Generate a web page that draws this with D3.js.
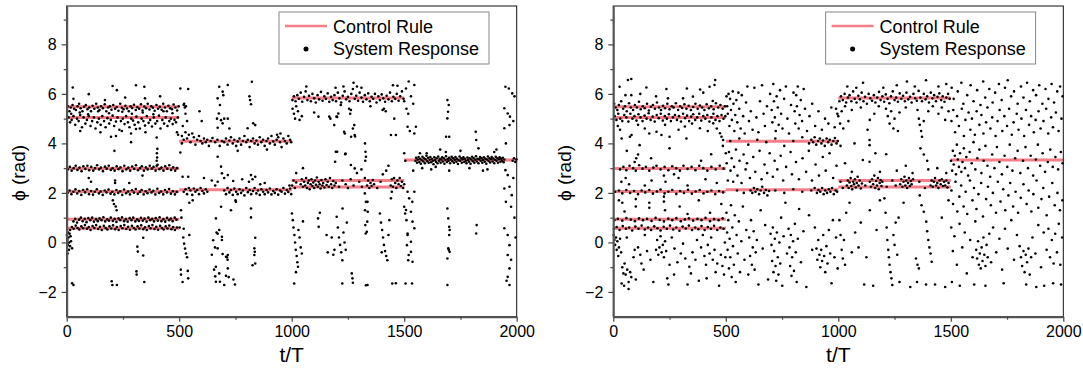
<!DOCTYPE html>
<html>
<head>
<meta charset="utf-8">
<script src="https://cdn.jsdelivr.net/npm/d3@7"></script>
<style>
body { margin: 0; background: #fff; }
svg { display: block; font-family: Arial, "Liberation Sans", sans-serif; }
</style>
</head>
<body>
<svg width="1083" height="369"></svg>
<script>
// control rule: one level per segment [from, to]
var ruleFrom  = [0, 0, 0, 0, 0, 0, 500, 500, 1000, 1000, 1000, 1500];
var ruleTo    = [500, 500, 500, 500, 500, 500, 1000, 1000, 1500, 1500, 1500, 2000];
var ruleLevel = [5.48, 5.05, 2.99, 2.06, 0.94, 0.57, 4.09, 2.13, 5.83, 2.5, 2.24, 3.33];

var xTicks = [0, 500, 1000, 1500, 2000];
var xMinor = [250, 750, 1250, 1750];
var yTicks = [-2, 0, 2, 4, 6, 8];
var yMinor = [-1, 1, 3, 5, 7, 9];

// system response, left panel  [t/T, phi]
var leftResponse = [
[5,5.5],[12,5.3],[18,5.45],[26,5.55],[33,5.4],[41,5.35],[48,5.5],[55,5.6],[62,5.42],[70,5.3],[77,5.48],[85,5.55],[92,5.38],[100,5.45],[108,5.3],[115,5.52],[123,5.4],[131,5.6],[138,5.45],[146,5.35],[153,5.5],[161,5.42],[169,5.58],[176,5.3],[184,5.45],[192,5.5],[199,5.36],[207,5.55],[215,5.4],[222,5.47],[230,5.32],[238,5.6],[245,5.44],[253,5.38],[261,5.52],[268,5.41],[276,5.3],[284,5.5],[291,5.43],[299,5.56],[307,5.35],[314,5.46],[322,5.4],[330,5.58],[337,5.33],[345,5.49],[353,5.42],[360,5.6],[368,5.37],[376,5.5],[383,5.44],[391,5.32],[399,5.55],[406,5.4],[414,5.48],[422,5.36],[429,5.6],[437,5.45],[445,5.3],[452,5.52],[460,5.42],[468,5.38],[475,5.57],[483,5.45],[491,5.33],[498,5.5],
[8,5.05],[15,4.85],[22,4.95],[30,5.1],[38,4.75],[46,5.0],[53,4.9],[60,5.15],[68,4.65],[75,5.05],[83,4.8],[90,4.95],[98,5.1],[106,4.7],[113,4.9],[121,5.05],[128,4.6],[136,4.85],[143,5.0],[151,4.75],[158,5.1],[166,4.9],[173,4.65],[181,5.02],[189,4.8],[196,4.95],[204,5.12],[211,4.7],[219,4.88],[226,5.05],[234,4.55],[241,4.9],[249,5.0],[257,4.78],[264,5.1],[272,4.85],[279,4.65],[287,5.0],[295,4.92],[302,4.75],[310,5.08],[318,4.85],[325,4.6],[333,5.0],[341,4.9],[348,4.72],[356,5.1],[364,4.83],[371,4.95],[379,4.68],[387,5.05],[394,4.8],[402,4.9],[410,5.12],[417,4.6],[425,4.95],[433,4.8],[440,5.05],[448,4.7],[456,4.9],[463,5.0],[471,4.78],[479,4.95],[486,4.85],[494,5.05],
[20,5.2],[58,5.25],[95,5.18],[140,5.3],[188,5.22],[247,5.28],[290,5.2],[338,5.25],[385,5.18],[430,5.3],[470,5.22],
[27,6.26],[98,5.99],[204,6.32],[223,6.15],[308,6.35],[345,6.29],[348,5.82],[30,5.8],[260,5.85],[415,5.9],[170,5.75],
[197,4.27],[219,4.3],[286,4.4],[286,4.05],[308,4.58],[400,4.24],[212,3.7],[401,3.6],[402,3.43],[403,3.78],[400,3.3],[495,4.35],[490,4.45],[150,4.45],[60,4.5],[350,4.45],[245,4.5],
[5,2.95],[14,3.05],[22,2.9],[31,3.0],[40,3.1],[48,2.93],[57,3.02],[66,2.88],[74,3.08],[83,2.97],[92,3.1],[100,2.92],[109,3.05],[118,2.9],[126,3.0],[135,3.12],[144,2.95],[152,3.02],[161,2.88],[170,3.06],[178,2.98],[187,3.1],[196,2.93],[204,3.0],[213,2.9],[222,3.08],[230,2.96],[239,3.03],[248,2.88],[256,3.1],[265,2.95],[274,3.02],[282,2.9],[291,3.07],[300,2.97],[308,3.12],[317,2.92],[326,3.0],[334,3.08],[343,2.9],[352,3.03],[360,2.95],[369,3.1],[378,2.98],[386,3.05],[395,2.9],[404,3.14],[412,2.96],[421,3.02],[430,2.9],[438,3.08],[447,2.98],[456,3.12],[464,2.93],[473,3.03],[482,2.9],[490,3.0],
[4,2.0],[13,2.1],[21,1.95],[30,2.05],[39,2.15],[47,1.98],[56,2.08],[65,1.92],[73,2.12],[82,2.02],[91,2.15],[99,1.95],[108,2.08],[117,1.93],[125,2.05],[134,2.15],[143,1.98],[151,2.06],[160,1.92],[169,2.1],[177,2.02],[186,2.14],[195,1.97],[203,2.05],[212,1.94],[221,2.12],[229,2.0],[238,2.07],[247,1.92],[255,2.14],[264,1.99],[273,2.06],[281,1.94],[290,2.11],[299,2.01],[307,2.16],[316,1.96],[325,2.04],[333,2.12],[342,1.94],[351,2.07],[359,1.99],[368,2.14],[377,2.02],[385,2.09],[394,1.94],[403,2.17],[411,2.0],[420,2.06],[429,1.94],[437,2.12],[446,2.02],[455,2.16],[463,1.97],[472,2.07],[481,1.94],[489,2.04],
[30,0.85],[38,0.95],[46,0.8],[55,0.92],[63,1.0],[71,0.86],[80,0.95],[88,0.82],[96,0.98],[105,0.9],[113,1.0],[121,0.84],[130,0.94],[138,0.86],[146,0.97],[155,0.9],[163,1.02],[171,0.85],[180,0.93],[188,0.88],[196,1.0],[205,0.87],[213,0.95],[221,0.83],[230,0.97],[238,0.9],[246,1.01],[255,0.86],[263,0.94],[271,0.84],[280,0.98],[288,0.9],[296,1.0],[305,0.85],[313,0.93],[321,0.87],[330,0.99],[338,0.88],[346,0.96],[355,0.84],[363,1.0],[371,0.9],[380,0.95],[388,0.85],[396,0.98],[405,0.88],[413,1.02],[421,0.86],[430,0.94],[438,0.84],[446,0.99],[455,0.9],[463,0.96],[471,0.86],[480,1.0],[488,0.92],
[15,0.5],[23,0.62],[31,0.55],[40,0.68],[48,0.58],[56,0.52],[65,0.65],[73,0.57],[81,0.7],[90,0.55],[98,0.62],[106,0.5],[115,0.66],[123,0.58],[131,0.7],[140,0.54],[148,0.63],[156,0.5],[165,0.67],[173,0.58],[181,0.52],[190,0.65],[198,0.56],[206,0.69],[215,0.53],[223,0.62],[231,0.5],[240,0.66],[248,0.57],[256,0.7],[265,0.54],[273,0.63],[281,0.51],[290,0.67],[298,0.58],[306,0.52],[315,0.65],[323,0.56],[331,0.69],[340,0.53],[348,0.61],[356,0.5],[365,0.66],[373,0.57],[381,0.7],[390,0.54],[398,0.63],[406,0.51],[415,0.67],[423,0.58],[431,0.52],[440,0.65],[448,0.56],[456,0.68],[465,0.53],[473,0.62],[481,0.5],[490,0.6],
[1,0.3],[3,0.1],[5,-0.1],[6,0.4],[8,0.2],[10,-0.3],[11,0.0],[13,0.35],[15,-0.15],[17,0.25],[4,-0.45],[19,0.05],
[98,2.6],[108,2.45],[215,2.5],[215,2.4],[278,2.4],[337,2.7],[205,1.7],[210,1.55],[218,1.45],[222,1.3],[24,-0.24],[340,0.19],[314,-0.17],[316,-0.37],[340,-0.53],[310,-1.17],[311,-1.3],[345,-1.6],[24,-1.65],[30,-1.72],[200,-1.57],[203,-1.72],[223,-1.72],[400,3.1],
[508,1.3],[510,1.0],[520,0.55],[518,0.2],[522,-0.05],[526,-0.25],[530,-0.45],[535,-0.6],[507,-1.1],[508,-1.3],[538,-1.15],[540,-1.45],[515,-1.6],[505,3.63],[505,6.22],[540,6.2],[520,5.55],[525,5.45],[530,5.5],[522,5.6],[535,4.9],[515,2.65],[540,2.65],[512,4.0],[516,4.7],[528,5.2],[545,1.6],[502,0.6],[545,0.3],
[512,4.3],[520,4.15],[528,4.45],[535,4.2],[543,4.35],[550,4.05],[558,4.4],[565,4.25],[572,3.95],[580,4.15],[588,4.3],[595,4.1],[603,4.0],[610,4.2],[618,4.05],[625,4.15],[632,3.9],[640,4.1],[648,4.22],[700,4.05],[708,4.2],[715,3.95],[723,4.12],[730,4.25],[738,4.0],[745,4.15],[753,3.9],[760,4.08],[768,4.2],[775,3.95],[783,4.1],[790,4.3],[798,4.05],[805,4.15],[813,3.85],[820,4.1],[828,4.2],[835,4.0],[843,4.12],[850,3.95],[858,4.25],[865,4.05],[873,4.15],[880,3.9],[888,4.1],[895,4.2],[903,4.0],[910,4.3],[918,4.08],[925,3.95],[933,4.15],[940,4.25],[948,4.05],[955,3.85],[963,4.2],[970,4.1],[978,4.0],[985,4.3],[993,4.15],[998,4.05],[660,4.05],[670,4.15],[680,3.9],[690,4.1],[935,4.35],[950,4.4],[890,3.75],[760,3.7],
[520,2.05],[528,2.15],[535,1.95],[543,2.2],[550,2.1],[558,1.92],[565,2.18],[572,2.05],[580,2.12],[588,1.95],[595,2.2],[603,2.08],[610,1.98],[618,2.15],[625,2.05],[700,2.1],[708,1.95],[715,2.2],[723,2.02],[730,2.12],[738,1.92],[745,2.18],[753,2.05],[760,1.95],[768,2.15],[775,2.0],[783,2.1],[790,1.9],[798,2.2],[805,2.03],[813,2.12],[820,1.95],[828,2.08],[835,2.2],[843,1.98],[850,2.1],[858,1.92],[865,2.15],[873,2.05],[880,1.95],[888,2.12],[895,2.02],[903,2.18],[910,1.94],[918,2.08],[925,2.0],[933,2.15],[940,1.93],[948,2.1],[955,2.05],[963,2.2],[970,1.97],[978,2.12],[985,2.04],[993,2.18],[998,1.95],[860,2.35],[880,2.4],[750,1.7],[660,2.3],[645,2.5],[700,2.6],[780,2.55],[810,2.45],[990,2.3],
[678,6.29],[693,6.09],[696,5.95],[716,6.36],[671,5.82],[681,5.55],[676,5.21],[686,4.94],[700,5.0],[716,5.0],[668,5.0],[693,4.81],[723,4.6],[671,4.63],[823,6.49],[812,5.9],[815,5.75],[819,5.58],[829,4.81],[838,4.74],[804,4.61],[671,3.46],[686,3.06],[690,2.79],[716,2.72],[671,2.45],[740,2.48],[819,2.72],[826,2.55],[838,2.65],[752,1.64],[686,1.44],[819,1.37],[819,1.01],[663,0.97],[678,0.5],[690,0.23],[671,0.35],[838,0.19],[690,0.1],[693,-0.47],[716,-0.51],[708,-0.58],[671,-0.24],[716,-1.05],[678,-1.25],[708,-1.35],[720,-1.4],[700,-1.72],[834,-0.24],[836,-0.38],[834,-0.51],[838,-0.85],[826,-0.92],[663,-0.98],[663,-1.59],[681,-1.59],[651,0.09],[659,-0.2],[666,0.4],[645,-0.5],[655,-1.1],[660,-1.37],[741,-1.5],[748,-1.7],[712,-0.6],[715,-0.7],[730,1.3],[610,2.6],[590,5.3],[600,4.9],[560,1.7],
[1003,5.75],[1010,5.9],[1017,5.7],[1025,5.95],[1032,5.8],[1040,6.05],[1047,5.68],[1055,5.88],[1062,6.1],[1070,5.75],[1077,5.92],[1085,5.7],[1092,6.0],[1100,5.82],[1107,5.65],[1115,5.95],[1122,5.78],[1130,6.08],[1137,5.72],[1145,5.9],[1152,5.8],[1160,6.02],[1167,5.68],[1175,5.88],[1182,5.75],[1190,5.95],[1197,5.7],[1205,6.05],[1212,5.82],[1220,5.65],[1227,5.92],[1235,6.1],[1242,5.78],[1250,5.88],[1257,5.7],[1265,6.0],[1272,6.2],[1280,5.8],[1287,5.92],[1295,5.72],[1302,6.05],[1310,5.85],[1317,5.68],[1325,5.95],[1332,5.78],[1340,6.02],[1347,5.7],[1355,5.88],[1362,5.8],[1370,6.0],[1377,5.65],[1385,5.9],[1392,5.75],[1400,5.98],[1407,5.82],[1415,5.68],[1422,5.92],[1430,5.78],[1437,6.05],[1445,5.7],[1452,5.88],[1460,5.8],[1467,6.0],[1475,5.72],[1482,5.9],[1490,6.1],[1497,5.8],
[1275,6.45],[1290,6.3],[1310,6.25],[1195,6.25],[1450,6.35],[1470,6.33],[1508,6.22],[1520,6.5],[1545,6.36],[1065,6.3],[1230,6.3],
[1004,5.4],[1010,5.2],[1015,5.0],[1020,5.5],[1028,5.3],[1035,4.95],[1045,5.1],[1119,5.08],[1167,5.08],[1172,5.0],[1189,4.74],[1199,5.08],[1218,5.55],[1233,4.47],[1236,4.4],[1255,5.4],[1260,5.2],[1263,5.35],[1278,4.74],[1280,4.34],[1282,4.28],[1404,5.35],[1410,5.4],[1418,5.3],[1456,5.0],[1441,4.34],[1463,4.34],[1515,4.67],[1525,4.5],[1545,4.4],[1552,4.67],[1510,5.4],[1518,5.2],[1350,5.5],[1100,5.25],[1530,5.9],[1540,5.6],[1500,5.7],
[1196,3.66],[1238,3.56],[1263,3.13],[1193,3.26],[1326,4.0],[1328,3.66],[1330,3.46],[1327,3.3],[1239,3.59],[1202,3.66],[1264,4.27],[1272,4.6],[1202,5.07],[1207,5.21],[1280,2.99],[1020,2.8],[1050,3.0],[1430,3.1],[1500,3.6],[1505,3.3],[1540,2.9],
[1002,2.3],[1008,2.5],[1014,2.2],[1020,2.42],[1040,2.35],[1045,2.55],[1050,2.25],[1055,2.45],[1060,2.3],[1064,2.6],[1068,2.2],[1072,2.4],[1076,2.5],[1080,2.15],[1084,2.35],[1088,2.55],[1092,2.28],[1096,2.42],[1100,2.2],[1104,2.5],[1108,2.33],[1112,2.62],[1116,2.25],[1120,2.45],[1124,2.35],[1128,2.18],[1132,2.52],[1136,2.3],[1140,2.4],[1145,2.22],[1150,2.55],[1155,2.32],[1160,2.45],[1165,2.25],[1170,2.6],[1175,2.35],[1180,2.2],[1185,2.48],[1190,2.3],[1196,2.4],[1210,2.25],[1225,2.5],[1240,2.35],[1250,2.2],[1262,2.55],[1275,2.3],[1290,2.8],[1300,2.45],[1312,2.25],[1325,2.6],[1335,2.3],[1340,2.5],[1345,2.2],[1350,2.4],[1355,2.28],[1360,2.52],[1366,2.35],[1380,2.2],[1395,2.45],[1440,2.3],[1445,2.55],[1450,2.25],[1455,2.6],[1460,2.4],[1465,2.2],[1470,2.5],[1475,2.35],[1480,2.6],[1485,2.28],[1490,2.45],[1495,2.2],[1500,2.35],[1405,2.75],[1420,2.9],[1310,2.95],
[1001,1.17],[1005,0.9],[1008,0.6],[1012,0.3],[1015,0.0],[1018,-0.3],[1022,-0.55],[1025,-0.8],[1028,-0.98],[1011,-1.66],[1030,0.5],[1035,0.2],[1040,-0.2],[1045,-0.45],[1050,0.85],[1019,-1.2],[1117,0.97],[1120,0.63],[1125,1.2],[1155,0.3],[1160,-0.4],[1200,1.04],[1205,0.6],[1210,0.2],[1215,-0.1],[1220,-0.4],[1225,-0.72],[1230,0.4],[1235,0.0],[1240,-0.3],[1245,0.8],[1226,1.37],[1225,-1.66],[1267,-1.25],[1270,-1.45],[1272,-1.63],[1330,-1.73],[1326,1.3],[1327,0.7],[1329,0.36],[1330,1.64],[1325,1.98],[1392,1.17],[1397,0.8],[1402,0.5],[1406,0.2],[1410,-0.1],[1415,-0.35],[1420,-0.55],[1425,-0.72],[1430,0.3],[1434,0.9],[1400,-0.4],[1447,-1.66],[1506,-1.66],[1535,-1.66],[1500,1.44],[1504,1.17],[1510,0.9],[1515,0.36],[1512,-0.11],[1518,-0.72],[1337,1.64],[1338,1.24],[1336,0.84],[1334,0.43],[1441,1.78],[1445,2.05],[1337,-1.72],[1463,-1.65],[1178,0.2],[1185,-0.5],[1190,-0.3],
[1515,2.05],[1522,1.78],[1536,1.64],[1545,2.05],[1508,1.31],[1530,1.24],[1537,0.84],[1545,0.57],[1515,0.3],[1530,0.03],[1530,-0.38],[1537,-0.78],[1520,-0.51],
[1550,3.3],[1553,3.42],[1557,3.22],[1560,3.35],[1564,3.45],[1567,3.25],[1571,3.38],[1574,3.18],[1578,3.32],[1581,3.46],[1585,3.27],[1588,3.4],[1592,3.2],[1595,3.36],[1599,3.5],[1602,3.28],[1606,3.42],[1609,3.22],[1613,3.34],[1616,3.45],[1620,3.24],[1623,3.38],[1627,3.3],[1630,3.16],[1634,3.44],[1637,3.33],[1641,3.26],[1644,3.4],[1648,3.2],[1651,3.47],[1655,3.3],[1658,3.38],[1662,3.22],[1665,3.35],[1669,3.44],[1672,3.27],[1676,3.4],[1679,3.18],[1683,3.33],[1686,3.48],[1690,3.25],[1693,3.37],[1697,3.3],[1700,3.42],[1704,3.2],[1707,3.35],[1711,3.46],[1714,3.28],[1718,3.4],[1721,3.22],[1725,3.34],[1728,3.45],[1732,3.26],[1735,3.38],[1739,3.17],[1742,3.32],[1746,3.47],[1749,3.3],[1753,3.4],[1756,3.22],[1760,3.36],[1763,3.44],[1767,3.25],[1770,3.38],[1774,3.3],[1777,3.2],[1781,3.43],[1784,3.33],[1788,3.26],[1791,3.4],[1795,3.18],[1798,3.35],[1802,3.46],[1805,3.28],[1809,3.4],[1812,3.22],[1816,3.34],[1819,3.48],[1823,3.27],[1826,3.38],[1830,3.2],[1833,3.36],[1837,3.45],[1840,3.3],[1844,3.4],[1847,3.22],[1851,3.33],[1854,3.44],[1858,3.26],[1861,3.38],[1865,3.18],[1868,3.35],[1872,3.47],[1875,3.29],[1879,3.4],[1882,3.23],[1886,3.36],[1889,3.45],[1893,3.27],[1896,3.39],[1900,3.2],[1903,3.34],[1907,3.46],[1910,3.3],[1914,3.4],[1917,3.22],[1921,3.36],[1924,3.44],[1928,3.26],[1931,3.38],[1935,3.3],[1938,3.42],[1942,3.24],[1945,3.35],[1982,3.3],[1988,3.4],[1994,3.25],[1999,3.35],
[1580,3.0],[1620,2.95],[1660,3.75],[1700,2.9],[1750,3.7],[1790,3.0],[1830,3.8],[1870,2.95],[1910,3.75],[1600,3.6],[1685,3.65],[1850,2.9],[1900,3.65],[1818,4.47],[1820,4.14],[1700,4.27],[1570,3.6],[1640,3.05],
[1692,5.75],[1698,5.55],[1695,5.28],[1692,5.01],[1686,4.27],[1692,1.37],[1696,0.97],[1700,0.63],[1702,0.5],[1700,0.3],[1696,-0.24],[1702,-0.38],[1692,-0.65],[1692,-1.72],[1698,-0.3],[1822,0.7],[1820,0.36],
[1950,6.29],[1965,6.22],[1980,6.02],[1945,5.42],[1960,5.21],[1970,5.08],[1968,4.74],[1945,4.61],[1952,4.0],[1950,2.92],[1960,2.72],[1968,2.25],[1945,2.18],[1952,1.64],[1978,1.91],[1975,1.44],[1945,0.57],[1960,0.3],[1968,-0.11],[1960,-0.51],[1968,-1.05],[1960,-1.39],[1968,-1.72],[1990,5.9],[1985,4.9],[1975,-0.7],[1955,-1.55],[1990,1.0],[1995,0.2],[1985,2.6]
];

// system response, right panel  [t/T, phi]
var rightResponse = [
[28,6.29],[65,6.56],[80,6.6],[147,6.26],[236,6.2],[327,6.22],[386,6.18],[428,6.29],[453,6.56],[450,6.36],[54,5.95],[80,5.95],[310,5.82],[354,5.89],[442,5.71],[243,5.82],[120,6.0],[190,5.9],[400,6.05],
[4,5.6],[10,5.45],[18,5.35],[25,5.55],[35,5.7],[44,5.4],[52,5.5],[60,5.3],[70,5.62],[78,5.45],[88,5.35],[96,5.55],[105,5.45],[114,5.68],[122,5.38],[131,5.5],[140,5.42],[150,5.6],[158,5.33],[167,5.48],[176,5.55],[185,5.4],[194,5.65],[203,5.45],[212,5.35],[221,5.52],[230,5.42],[240,5.6],[250,5.38],[260,5.5],[268,5.45],[278,5.62],[288,5.35],[297,5.5],[306,5.43],[316,5.58],[325,5.4],[335,5.52],[345,5.35],[355,5.47],[365,5.6],[375,5.4],[385,5.53],[395,5.45],[405,5.35],[415,5.58],[425,5.42],[435,5.5],[446,5.38],[456,5.62],[466,5.45],[476,5.55],[486,5.4],[496,5.5],
[6,5.1],[14,4.95],[22,5.2],[31,5.0],[40,4.9],[49,5.15],[58,5.05],[67,4.88],[76,5.2],[85,5.0],[94,5.1],[103,4.92],[112,5.18],[121,5.05],[130,4.9],[139,5.12],[148,5.0],[157,5.22],[166,4.95],[175,5.08],[184,4.88],[193,5.15],[202,5.02],[211,5.2],[220,4.92],[229,5.1],[238,5.0],[247,5.18],[256,4.9],[265,5.05],[274,5.15],[283,4.95],[292,5.1],[301,4.88],[310,5.2],[319,5.02],[328,5.12],[337,4.9],[346,5.08],[355,5.18],[364,4.95],[373,5.05],[382,5.2],[391,4.92],[400,5.1],[409,5.0],[418,5.15],[427,4.88],[436,5.05],[445,5.2],[454,4.95],[463,5.1],[472,4.9],[481,5.15],[490,5.0],[498,5.1],
[37,4.2],[74,4.27],[81,4.34],[140,4.6],[192,4.47],[214,4.34],[250,4.27],[318,4.68],[325,4.2],[385,4.61],[444,4.81],[474,4.41],[481,4.27],[488,4.14],[20,4.7],[110,4.75],[160,4.4],[290,4.55],[350,4.8],[420,4.5],[30,4.55],[230,4.75],[460,4.6],
[117,3.93],[102,3.4],[110,3.55],[95,3.25],[168,3.4],[435,3.56],[487,3.9],[500,3.6],[60,3.7],[390,3.3],[250,3.8],
[30,2.95],[45,3.05],[58,2.92],[72,3.1],[88,3.0],[100,2.9],[115,3.12],[130,2.98],[145,3.05],[160,2.9],[178,3.02],[192,3.1],[210,2.95],[228,3.05],[245,2.92],[262,3.08],[280,3.0],[296,2.9],[312,3.1],[330,2.97],[348,3.05],[365,2.92],[382,3.1],[400,3.0],[418,2.9],[436,3.05],[455,2.95],[473,3.1],[490,2.98],
[36,2.45],[55,2.6],[70,2.35],[170,2.5],[225,2.7],[232,2.45],[270,2.75],[290,2.6],[330,2.3],[410,2.55],[460,2.4],[140,2.3],
[8,2.05],[25,2.1],[40,1.98],[58,2.12],[75,2.0],[92,2.08],[110,1.95],[126,2.1],[142,2.02],[160,2.12],[176,1.97],[194,2.06],[210,2.14],[228,1.98],[245,2.05],[262,2.12],[280,1.96],[297,2.08],[314,2.0],[332,2.13],[349,1.97],[366,2.06],[384,2.12],[401,1.98],[418,2.05],[436,2.1],[453,1.95],[470,2.08],[488,2.02],
[25,1.7],[40,1.6],[100,1.75],[100,1.45],[160,1.6],[160,1.4],[225,1.85],[225,1.65],[230,1.3],[295,1.45],[50,1.25],[380,1.7],[430,1.2],[480,1.55],[330,1.15],
[5,0.9],[20,0.95],[40,0.88],[58,0.98],[78,0.92],[96,0.86],[114,0.97],[132,0.9],[150,0.95],[170,0.87],[188,0.99],[206,0.91],[225,0.85],[244,0.96],[262,0.9],[280,0.98],[300,0.86],[318,0.93],[336,0.97],[355,0.88],[374,0.95],[392,0.9],[410,0.99],[430,0.86],[448,0.94],[468,0.9],[486,0.97],
[3,0.55],[15,0.62],[28,0.5],[42,0.66],[56,0.55],[70,0.6],[84,0.48],[98,0.64],[112,0.55],[126,0.68],[140,0.52],[154,0.6],[168,0.5],[182,0.65],[196,0.57],[210,0.48],[224,0.63],[238,0.55],[252,0.68],[266,0.52],[280,0.6],[294,0.47],[308,0.64],[322,0.56],[336,0.68],[350,0.5],[364,0.6],[378,0.53],[392,0.66],[406,0.5],[420,0.62],[434,0.55],[448,0.67],[462,0.5],[476,0.6],[490,0.55],
[2,0.3],[5,0.1],[8,-0.1],[12,0.2],[15,-0.3],[18,0.05],[22,-0.55],[25,-0.2],[30,0.15],[35,-0.4],[40,-1.0],[45,-1.25],[50,-0.85],[55,-1.3],[62,-1.1],[68,-1.6],[75,-1.2],[80,-1.4],[90,-0.6],[95,-0.3],[37,-1.66],[48,-1.75],[68,-1.88],[110,-0.2],[120,-0.5],[125,-0.85],[135,-1.1],[150,-0.35],[165,-0.7],[178,-1.6],[190,-0.3],[195,0.1],[200,-0.5],[205,-0.2],[210,0.25],[215,-0.4],[220,-0.1],[225,-0.6],[230,0.05],[235,-0.35],[240,-1.45],[245,-1.7],[250,-0.9],[260,0.2],[272,-0.25],[285,-0.8],[300,-0.45],[310,-0.05],[320,-0.65],[330,-1.7],[338,-0.98],[345,-1.25],[352,-0.4],[365,-0.7],[372,0.1],[380,-1.55],[390,-0.2],[398,0.3],[405,-0.55],[412,-0.9],[420,-0.1],[428,-0.45],[435,0.2],[442,-0.7],[450,-0.3],[455,-1.2],[462,-0.85],[470,-1.75],[478,-0.5],[485,-0.95],[492,-1.3],[496,0.0],[498,-0.6],[270,-1.3],[140,0.3],[60,0.2],[100,-1.5],[415,-1.45],
[503,5.9],[506,5.5],[509,5.2],[512,6.0],[516,4.7],[519,5.8],[523,5.35],[527,4.95],[531,6.1],[534,5.6],[538,4.5],[542,5.15],[547,5.75],[551,4.85],[556,6.05],[560,5.4],[566,4.6],[571,5.95],[577,5.1],[584,4.4],[590,5.65],[596,6.3],[603,4.9],[611,5.3],[619,4.55],[627,6.25],[636,5.05],[645,4.45],[652,5.7],[661,6.35],[668,5.2],[674,4.7],[683,5.5],[697,6.0],[704,5.35],[707,4.85],[711,6.4],[714,5.7],[718,5.05],[722,4.5],[726,5.9],[731,5.45],[735,4.75],[741,6.15],[746,5.2],[752,4.6],[759,5.8],[767,6.3],[774,5.0],[781,4.4],[790,5.55],[801,6.05],[806,5.3],[809,4.8],[813,5.95],[816,5.5],[820,6.3],[824,4.6],[828,5.15],[833,5.75],[839,4.9],[846,6.2],[852,5.4],[861,4.5],[872,5.1],[884,5.6],[897,4.7],[912,5.3],[927,4.55],[941,5.0],[956,4.8],[969,5.45],[984,4.65],[996,5.2],
[520,4.1],[560,4.2],[600,3.95],[640,4.15],[680,4.05],[720,4.2],[760,3.9],[800,4.1],[840,4.25],[870,4.0],[880,4.15],[888,4.05],[895,4.25],[902,3.95],[910,4.1],[918,4.2],[925,4.0],[932,4.12],[940,3.9],[948,4.2],[955,4.05],[962,4.15],[970,3.95],[978,4.1],[985,4.22],[992,4.0],[998,4.1],
[504,3.2],[509,2.5],[514,3.65],[521,2.9],[526,3.4],[533,2.45],[537,3.05],[545,3.75],[552,2.7],[561,3.3],[570,2.4],[579,3.55],[588,2.95],[594,3.2],[607,2.6],[622,3.45],[631,2.85],[650,3.7],[659,2.55],[672,3.15],[684,2.8],[695,3.6],[709,2.65],[717,3.3],[729,2.95],[744,3.5],[755,2.5],[768,3.05],[788,3.65],[794,2.75],[812,3.25],[825,2.55],[841,3.4],[857,2.85],[869,3.7],[883,2.5],[899,3.15],[914,2.7],[931,3.45],[944,2.9],[961,3.6],[977,2.6],[992,3.1],
[610,2.1],[618,2.0],[625,2.2],[632,2.05],[640,2.15],[648,1.95],[655,2.1],[662,2.25],[670,2.0],[678,2.12],[685,1.9],[692,2.08],[720,2.1],[760,2.0],[800,2.15],[840,2.05],[880,2.1],[895,2.2],[905,2.0],[912,2.12],[920,2.05],[928,2.2],[935,1.95],[942,2.1],[950,2.0],[958,2.15],[965,2.05],[972,2.2],[980,1.95],[988,2.1],[995,2.05],[550,2.1],[580,2.0],
[503,1.2],[506,0.4],[508,-0.3],[511,0.9],[514,-1.05],[517,0.15],[520,-0.6],[523,1.5],[526,-1.4],[529,0.6],[532,-0.15],[536,-0.9],[540,1.1],[544,-1.6],[548,0.3],[553,-0.45],[558,0.85],[563,-1.2],[569,0.05],[576,1.45],[583,-0.7],[591,0.5],[600,-1.3],[604,0.2],[608,-0.55],[612,0.9],[616,-0.9],[620,-0.2],[624,0.45],[628,-1.1],[633,-0.4],[638,0.1],[645,-1.7],[655,1.3],[664,-0.25],[675,0.7],[688,-1.5],[699,0.35],[703,-0.1],[706,-0.75],[709,0.6],[712,-1.2],[715,-0.35],[718,0.15],[721,-0.95],[724,-1.55],[727,0.4],[731,-0.6],[734,-1.3],[738,0.0],[742,-0.85],[746,1.0],[751,-1.75],[757,0.25],[765,1.6],[772,-0.45],[779,0.55],[783,-0.2],[786,-0.95],[789,0.3],[792,-1.35],[795,-0.6],[799,0.05],[803,-1.15],[807,0.75],[811,-0.4],[815,-1.6],[820,0.15],[826,1.35],[834,-0.8],[845,0.45],[858,-1.8],[870,1.1],[884,-0.3],[896,0.6],[903,-0.25],[907,-0.7],[911,0.1],[916,-0.5],[920,-1.0],[924,-0.3],[928,-0.75],[933,0.3],[937,-0.55],[942,-1.2],[947,-0.15],[952,-0.85],[958,0.5],[964,-0.45],[970,-1.65],[976,0.9],[983,-0.6],[990,0.2],[997,-1.05],
[1005,5.7],[1012,5.9],[1020,5.75],[1028,6.0],[1035,5.65],[1043,5.85],[1050,5.95],[1058,5.7],[1066,6.1],[1073,5.8],[1081,5.65],[1089,5.92],[1096,5.78],[1104,6.05],[1112,5.7],[1119,5.88],[1127,5.6],[1135,6.0],[1142,5.82],[1150,5.72],[1158,5.95],[1165,5.65],[1173,5.85],[1181,6.08],[1188,5.75],[1196,5.9],[1204,5.68],[1211,5.98],[1219,5.8],[1227,5.62],[1234,5.9],[1242,6.1],[1250,5.75],[1257,5.85],[1265,5.68],[1273,6.02],[1280,5.8],[1288,5.92],[1296,5.7],[1303,6.05],[1311,5.78],[1319,5.88],[1326,5.65],[1334,6.0],[1342,5.82],[1349,5.72],[1357,6.12],[1365,5.85],[1372,5.7],[1380,6.0],[1388,5.78],[1395,5.9],[1403,5.65],[1411,6.05],[1418,5.82],[1426,5.95],[1434,5.7],[1441,5.88],[1449,6.02],[1457,5.75],[1464,5.9],[1472,5.68],[1480,5.85],[1488,6.0],[1495,5.8],
[1040,6.3],[1110,6.45],[1200,6.25],[1260,6.35],[1305,6.5],[1340,6.3],[1390,6.55],[1445,6.3],[1480,6.4],[1080,6.25],
[990,5.4],[1000,5.1],[1008,4.8],[1015,5.3],[1022,4.6],[1030,5.5],[1045,4.9],[1060,5.35],[1100,5.45],[1140,4.95],[1180,5.5],[1212,5.4],[1220,5.1],[1228,4.8],[1235,5.3],[1245,4.6],[1250,5.0],[1265,4.5],[1272,5.25],[1300,5.45],[1352,5.35],[1358,5.0],[1362,4.75],[1368,4.5],[1372,4.27],[1380,4.9],[1400,5.3],[1420,5.5],[1445,5.2],[1460,5.45],[1475,4.95],[1490,5.3],[1130,4.55],[1160,5.2],
[1010,3.9],[1030,3.2],[1072,4.0],[1109,3.33],[1139,4.14],[1139,3.93],[1139,3.26],[1165,3.6],[1213,3.56],[1260,2.9],[1300,3.1],[1330,2.8],[1365,3.8],[1380,3.55],[1395,3.3],[1400,2.95],[1440,3.0],[1480,2.8],[1060,2.85],[1185,2.85],
[1038,2.3],[1042,2.5],[1046,2.2],[1050,2.42],[1055,2.6],[1058,2.28],[1062,2.15],[1066,2.45],[1070,2.35],[1074,2.55],[1078,2.22],[1082,2.4],[1086,2.65],[1090,2.3],[1095,2.5],[1100,2.18],[1105,2.38],
[1140,2.45],[1145,2.25],[1150,2.55],[1155,2.35],[1160,2.7],[1164,2.2],[1168,2.48],[1172,2.3],[1176,2.6],[1180,2.15],[1184,2.4],[1188,2.52],[1192,2.28],[1196,2.45],
[1275,2.35],[1280,2.55],[1285,2.25],[1290,2.45],[1294,2.65],[1298,2.3],[1302,2.5],[1306,2.2],[1310,2.4],[1314,2.6],[1318,2.28],[1322,2.48],[1326,2.35],[1332,2.55],
[1410,2.3],[1415,2.5],[1420,2.25],[1425,2.45],[1430,2.6],[1435,2.3],[1440,2.4],[1445,2.2],[1450,2.5],[1455,2.35],[1460,2.55],[1465,2.28],[1470,2.45],[1475,2.3],[1480,2.5],[1485,2.22],[1490,2.4],
[1120,2.3],[1215,2.25],[1240,2.5],[1255,2.3],[1360,2.45],[1385,2.2],[1020,2.2],[1010,2.45],
[1005,0.9],[1010,0.3],[1015,-0.3],[1020,-0.65],[1025,0.1],[1030,-0.9],[1035,1.2],[1050,1.6],[1060,-0.4],[1075,0.4],[1090,-0.2],[1100,0.8],[1115,-1.7],[1125,-0.6],[1140,1.3],[1155,-1.75],[1170,0.5],[1185,1.7],[1205,1.78],[1210,1.2],[1215,0.6],[1218,0.1],[1222,-0.3],[1225,-0.6],[1228,-0.9],[1232,-1.2],[1236,-1.45],[1240,-1.72],[1245,0.3],[1250,-0.1],[1255,0.8],[1262,-0.5],[1268,1.0],[1272,-1.6],[1290,1.6],[1320,-1.8],[1345,-0.65],[1352,-0.9],[1358,-1.05],[1362,1.9],[1370,1.5],[1380,1.24],[1391,0.84],[1395,0.45],[1400,0.1],[1405,-0.2],[1410,-0.45],[1415,-0.78],[1430,-1.7],[1460,1.0],[1475,-1.8],[1490,1.7],[1350,-1.6],[1390,-1.7],
[1504,6.25],[1513,5.8],[1531,6.1],[1547,6.45],[1556,5.6],[1573,5.95],[1588,6.35],[1601,5.7],[1617,6.15],[1632,5.55],[1644,6.5],[1653,5.85],[1671,6.2],[1686,5.65],[1697,6.05],[1714,6.4],[1726,5.75],[1741,6.25],[1753,6.55],[1768,5.9],[1781,6.1],[1797,5.6],[1812,6.3],[1823,5.85],[1839,6.45],[1851,5.7],[1866,6.15],[1879,5.95],[1893,6.35],[1907,5.6],[1921,6.2],[1934,5.8],[1948,6.4],[1959,5.65],[1973,6.1],[1986,6.3],[1997,5.9],
[1503,4.9],[1511,5.35],[1519,4.45],[1528,5.1],[1536,4.7],[1549,5.4],[1558,4.3],[1565,4.95],[1579,5.25],[1587,4.55],[1594,5.0],[1607,4.35],[1615,5.3],[1627,4.75],[1636,5.15],[1645,4.4],[1657,4.85],[1663,5.45],[1676,4.6],[1684,5.05],[1699,4.3],[1708,4.9],[1717,5.35],[1729,4.5],[1738,5.1],[1750,4.7],[1759,5.4],[1771,4.35],[1779,4.85],[1793,5.2],[1801,4.55],[1814,5.0],[1826,4.3],[1834,5.35],[1848,4.75],[1857,5.1],[1869,4.45],[1877,4.95],[1890,5.3],[1899,4.6],[1912,4.9],[1924,5.4],[1933,4.4],[1946,5.05],[1954,4.65],[1967,5.25],[1979,4.5],[1992,5.0],
[1501,3.3],[1506,2.9],[1509,3.7],[1513,3.15],[1518,3.5],[1523,2.75],[1527,3.95],[1531,3.35],[1536,3.05],[1541,3.6],[1547,2.85],[1552,3.25],[1558,3.8],[1563,3.0],[1569,3.45],[1577,2.7],[1584,3.65],[1593,3.2],[1601,4.05],[1609,2.95],[1618,3.4],[1627,3.75],[1636,2.8],[1646,3.3],[1654,3.9],[1663,3.1],[1675,2.65],[1684,3.55],[1694,3.0],[1705,3.85],[1716,3.25],[1727,2.75],[1739,3.5],[1751,3.05],[1762,3.95],[1774,2.9],[1786,3.4],[1797,3.7],[1809,2.8],[1821,3.3],[1832,3.85],[1843,3.0],[1855,3.5],[1866,2.7],[1878,3.35],[1887,3.95],[1897,3.1],[1908,3.6],[1919,2.85],[1931,3.25],[1942,3.75],[1953,3.05],[1965,3.45],[1977,2.95],[1989,3.65],[1997,3.2],
[1503,2.1],[1510,1.55],[1521,2.45],[1529,1.25],[1538,1.85],[1546,2.3],[1557,1.45],[1566,2.05],[1573,1.15],[1585,2.5],[1596,1.7],[1603,2.2],[1614,1.35],[1623,1.95],[1635,2.4],[1643,1.05],[1657,1.75],[1665,2.25],[1678,1.5],[1687,2.0],[1701,1.2],[1709,2.45],[1721,1.65],[1733,2.15],[1742,1.3],[1756,1.9],[1764,2.4],[1777,1.45],[1788,2.05],[1799,1.2],[1811,1.8],[1823,2.35],[1837,1.55],[1846,2.1],[1858,1.25],[1867,1.95],[1881,2.5],[1889,1.4],[1903,1.75],[1911,2.2],[1926,1.1],[1937,1.85],[1951,2.4],[1962,1.5],[1974,2.0],[1985,1.3],[1996,1.7],
[1502,0.6],[1509,-0.35],[1516,0.25],[1527,-0.9],[1539,0.75],[1551,-0.2],[1562,0.4],[1571,-1.25],[1586,0.1],[1597,-0.6],[1609,0.85],[1613,-0.3],[1617,-0.65],[1621,0.05],[1625,-0.9],[1629,-0.45],[1633,-1.05],[1637,-0.2],[1641,-0.75],[1645,0.2],[1649,-0.5],[1654,-0.95],[1659,-0.1],[1664,-0.6],[1671,0.35],[1679,-0.8],[1688,0.6],[1702,-0.4],[1716,0.15],[1728,-1.1],[1741,0.55],[1753,-0.25],[1769,0.9],[1781,-0.7],[1794,0.3],[1806,-0.15],[1812,-0.6],[1817,-0.95],[1823,-0.35],[1828,-1.2],[1833,-0.5],[1839,-0.8],[1845,-0.25],[1851,-1.3],[1857,-0.6],[1863,0.2],[1876,-0.45],[1889,0.7],[1901,-1.0],[1913,0.4],[1926,-0.3],[1934,0.55],[1941,-0.6],[1949,0.1],[1957,-0.85],[1964,0.35],[1972,-0.4],[1980,0.75],[1987,-0.9],[1995,0.2],
[1505,-1.6],[1540,-1.75],[1604,-1.7],[1654,-1.75],[1735,-1.65],[1835,-1.7],[1880,-1.8],[1915,-1.75],[1955,-1.65],[1990,-1.7]
];

var svg = d3.select("svg"),
    plotW = 450, plotH = 310.7, plotTop = 6,
    ruleColor = "#f47f88",
    fontStack = "Arial, 'Liberation Sans', sans-serif";

var x = d3.scaleLinear().domain([0, 2000]).range([0, plotW]);
var y = d3.scaleLinear().domain([-3, 9.55]).range([plotH, 0]);

svg.append("rect").attr("width", 1083).attr("height", 369).attr("fill", "#fff");

function drawPanel(left, points) {
  var g = svg.append("g").attr("transform", "translate(" + left + "," + plotTop + ")");

  // control rule segments
  g.selectAll(".rule")
    .data(ruleLevel).enter()
    .append("line")
    .attr("class", "rule")
    .attr("x1", function(d, i) { return x(ruleFrom[i]); })
    .attr("x2", function(d, i) { return x(ruleTo[i]); })
    .attr("y1", function(d) { return y(d); })
    .attr("y2", function(d) { return y(d); })
    .attr("stroke", ruleColor)
    .attr("stroke-width", 3);

  // response points
  g.selectAll(".pt")
    .data(points).enter()
    .append("circle")
    .attr("class", "pt")
    .attr("cx", function(d) { return x(d[0]); })
    .attr("cy", function(d) { return y(d[1]); })
    .attr("r", 1.3)
    .attr("fill", "#000");

  // frame
  g.append("rect")
    .attr("width", plotW).attr("height", plotH)
    .attr("fill", "none").attr("stroke", "#111").attr("stroke-width", 1);

  // axes, major + minor ticks
  var xa = g.append("g").attr("transform", "translate(0," + plotH + ")")
    .call(d3.axisBottom(x).tickValues(xTicks).tickFormat(d3.format("d"))
      .tickSize(5).tickSizeOuter(0).tickPadding(4));
  g.append("g").attr("transform", "translate(0," + plotH + ")")
    .call(d3.axisBottom(x).tickValues(xMinor).tickSize(3).tickSizeOuter(0).tickFormat(""))
    .select(".domain").remove();
  var ya = g.append("g")
    .call(d3.axisLeft(y).tickValues(yTicks).tickFormat(d3.format("d"))
      .tickSize(5).tickSizeOuter(0).tickPadding(5));
  g.append("g")
    .call(d3.axisLeft(y).tickValues(yMinor).tickSize(3).tickSizeOuter(0).tickFormat(""))
    .select(".domain").remove();

  g.selectAll(".tick line").attr("stroke", "#444").attr("stroke-width", 1.2);
  [xa, ya].forEach(function(a) {
    a.select(".domain").attr("stroke", "#555").attr("stroke-width", 2);
    a.selectAll("text").attr("font-size", "16px").attr("font-family", fontStack).attr("fill", "#000");
  });

  // axis titles
  g.append("text")
    .attr("x", plotW / 2).attr("y", 362 - plotTop)
    .attr("text-anchor", "middle")
    .attr("font-size", "21px")
    .text("t/T");
  g.append("text")
    .attr("transform", "translate(-42," + (173 - plotTop) + ") rotate(-90)")
    .attr("text-anchor", "middle")
    .attr("font-size", "19px")
    .text("\u03d5 (rad)");

  // legend
  var lg = g.append("g").attr("transform", "translate(212.3,6)");
  lg.append("rect")
    .attr("width", 210).attr("height", 52)
    .attr("fill", "#fff").attr("stroke", "#888").attr("stroke-width", 1);
  lg.append("line")
    .attr("x1", 6).attr("x2", 48).attr("y1", 14).attr("y2", 14)
    .attr("stroke", ruleColor).attr("stroke-width", 2.5);
  lg.append("circle").attr("cx", 27).attr("cy", 37).attr("r", 2.5).attr("fill", "#000");
  lg.append("text").attr("x", 54).attr("y", 21).attr("font-size", "18px").text("Control Rule");
  lg.append("text").attr("x", 54).attr("y", 43).attr("font-size", "18px").text("System Response");
}

drawPanel(66.7, leftResponse);
drawPanel(613.3, rightResponse);
</script>
</body>
</html>
